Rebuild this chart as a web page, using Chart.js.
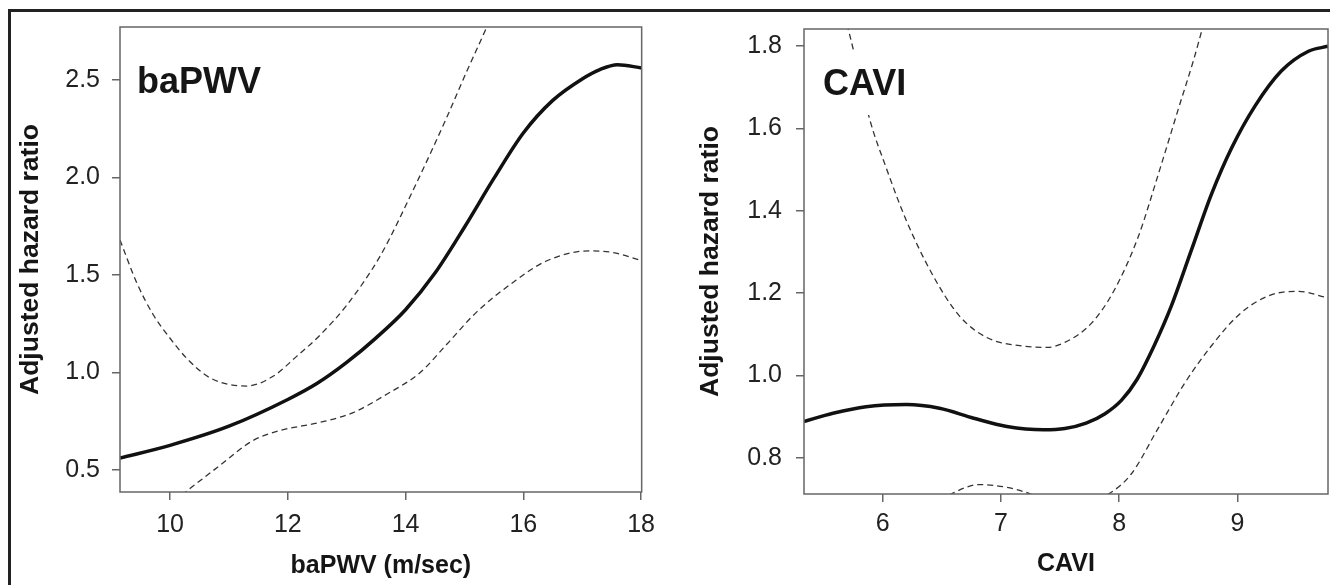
<!DOCTYPE html>
<html>
<head>
<meta charset="utf-8">
<script src="https://cdn.jsdelivr.net/npm/chart.js@4.4.1/dist/chart.umd.min.js"></script>
<style>
  html, body { margin: 0; padding: 0; background: #fff; }
  body { width: 1330px; height: 585px; position: relative; overflow: hidden; }
  #frame { position: absolute; left: 8px; top: 9px; width: 1400px; height: 700px; border: 3px solid #222; box-sizing: border-box; }
  canvas { position: absolute; top: 0; }
  #c1 { left: 0; }
  #c2 { left: 665px; }
</style>
</head>
<body>
<div id="frame"></div>
<canvas id="c1" width="665" height="585"></canvas>
<canvas id="c2" width="665" height="585"></canvas>
<script>
// ---------- baPWV panel ----------
const baTicksX = [10, 12, 14, 16, 18];
const baTicksY = [0.5, 1.0, 1.5, 2.0, 2.5];
const baX  = [9.15, 10.0, 11.0, 12.0, 12.5, 13.0, 13.5, 14.0, 14.5, 15.0, 15.5, 16.0, 16.5, 17.0, 17.3, 17.6, 18.01];
const baHR = [0.562, 0.627, 0.725, 0.862, 0.945, 1.052, 1.178, 1.322, 1.51, 1.745, 1.995, 2.228, 2.395, 2.505, 2.553, 2.578, 2.561];
const baUpX = [9.15, 9.43, 9.72, 10.0, 10.28, 10.68, 11.30, 11.75, 12.15, 12.55, 13.0, 13.57, 14.13, 14.70, 15.04, 15.37, 15.45];
const baUp  = [1.68, 1.463, 1.294, 1.176, 1.074, 0.973, 0.931, 0.981, 1.083, 1.193, 1.345, 1.598, 1.936, 2.308, 2.544, 2.764, 2.82];
const baLoX = [10.2, 10.31, 10.85, 11.41, 11.87, 12.55, 13.11, 13.68, 14.24, 14.7, 15.21, 15.83, 16.40, 17.13, 17.53, 18.01];
const baLo  = [0.373, 0.399, 0.525, 0.652, 0.703, 0.745, 0.795, 0.889, 0.998, 1.145, 1.311, 1.463, 1.573, 1.624, 1.615, 1.573];

// ---------- CAVI panel ----------
const cvTicksX = [6, 7, 8, 9];
const cvTicksY = [0.8, 1.0, 1.2, 1.4, 1.6, 1.8];
const cvX  = [5.335, 5.58, 5.86, 6.20, 6.48, 6.77, 7.05, 7.36, 7.54, 7.72, 7.88, 8.02, 8.15, 8.30, 8.44, 8.61, 8.78, 8.95, 9.15, 9.37, 9.60, 9.765];
const cvHR = [0.888, 0.908, 0.924, 0.929, 0.92, 0.896, 0.876, 0.868, 0.871, 0.884, 0.907, 0.94, 0.99, 1.075, 1.168, 1.304, 1.44, 1.552, 1.655, 1.739, 1.787, 1.799];
const cvUpX = [5.66, 5.71, 5.77, 5.89, 6.03, 6.20, 6.43, 6.65, 6.88, 7.16, 7.39, 7.54, 7.77, 7.96, 8.16, 8.33, 8.50, 8.63, 8.70, 8.75];
const cvUp  = [1.90, 1.84, 1.77, 1.622, 1.504, 1.376, 1.24, 1.144, 1.092, 1.072, 1.068, 1.08, 1.128, 1.208, 1.336, 1.488, 1.647, 1.767, 1.839, 1.89];
const cvLoX = [6.35, 6.58, 6.82, 7.05, 7.25, 7.55, 7.91, 8.10, 8.33, 8.56, 8.78, 9.03, 9.29, 9.51, 9.765];
const cvLo  = [0.67, 0.712, 0.735, 0.728, 0.712, 0.67, 0.712, 0.76, 0.872, 0.984, 1.072, 1.152, 1.196, 1.204, 1.188];

const FONT = "'Liberation Sans', Arial, Helvetica, sans-serif";
const pts = (xs, ys) => xs.map((x, i) => ({ x: x, y: ys[i] }));

function solid(data) {
  return { data, borderColor: '#111', borderWidth: 3.5, pointRadius: 0, cubicInterpolationMode: 'monotone', clip: 0, fill: false };
}
function dashed(data) {
  return { data, borderColor: '#333', borderWidth: 1.3, borderDash: [6, 4], pointRadius: 0, cubicInterpolationMode: 'monotone', clip: 0, fill: false };
}

function framePlugin(label, box) {
  return {
    id: 'frameLabel',
    afterDatasetsDraw(chart) {
      const { ctx, chartArea: a } = chart;
      ctx.save();
      if (box) {
        ctx.fillStyle = '#fff';
        ctx.fillRect(a.left + box[0], box[1], box[2], box[3]);
      }
      ctx.fillStyle = '#151515';
      ctx.font = 'bold 36px ' + FONT;
      ctx.textBaseline = 'alphabetic';
      ctx.textAlign = 'left';
      ctx.fillText(label.text, a.left + label.dx, label.y);
      ctx.strokeStyle = '#666';
      ctx.lineWidth = 1.5;
      ctx.strokeRect(a.left, a.top, a.right - a.left, a.bottom - a.top);
      ctx.restore();
    }
  };
}

function makeChart(id, cfg) {
  return new Chart(document.getElementById(id), {
    type: 'line',
    data: { datasets: cfg.datasets },
    options: {
      responsive: false,
      animation: false,
      events: [],
      layout: { padding: { left: 0, top: 22, right: cfg.padRight, bottom: 0 } },
      plugins: { legend: { display: false }, tooltip: { enabled: false } },
      scales: {
        x: {
          type: 'linear',
          min: cfg.xMin, max: cfg.xMax,
          afterBuildTicks: s => { s.ticks = cfg.ticksX.map(v => ({ value: v })); },
          afterFit: s => { s.height = cfg.xHeight; },
          border: { display: false },
          grid: { drawOnChartArea: false, drawTicks: true, tickLength: 8, color: '#666', lineWidth: 1.5 },
          ticks: { color: '#222', font: { family: FONT, size: 25 }, padding: cfg.xPad, maxRotation: 0, autoSkip: false,
                   callback: v => String(v) },
          title: { display: true, text: cfg.xTitle, color: '#151515', font: { family: FONT, size: 25, weight: 'bold' },
                   padding: { top: 0, bottom: cfg.xTitlePad } }
        },
        y: {
          type: 'linear',
          min: cfg.yMin, max: cfg.yMax,
          afterBuildTicks: s => { s.ticks = cfg.ticksY.map(v => ({ value: v })); },
          afterFit: s => { s.width = cfg.yWidth; },
          border: { display: false },
          grid: { drawOnChartArea: false, drawTicks: true, tickLength: 8, color: '#666', lineWidth: 1.5 },
          ticks: { color: '#222', font: { family: FONT, size: 25 }, padding: cfg.yPad, autoSkip: false,
                   callback: v => Number(v).toFixed(1) },
          title: { display: true, text: 'Adjusted hazard ratio', color: '#151515', font: { family: FONT, size: 26.5, weight: 'bold' },
                   padding: { top: cfg.yTitlePad, bottom: 0 } }
        }
      }
    },
    plugins: [framePlugin(cfg.label, cfg.box)]
  });
}

makeChart('c1', {
  datasets: [solid(pts(baX, baHR)), dashed(pts(baUpX, baUp)), dashed(pts(baLoX, baLo))],
  xMin: 9.15, xMax: 18.01, yMin: 0.388, yMax: 2.771,
  ticksX: baTicksX, ticksY: baTicksY,
  padRight: 23, xHeight: 93, yWidth: 120, xPad: 10, yPad: 12, xTitlePad: 4, yTitlePad: 15,
  xTitle: 'baPWV (m/sec)',
  label: { text: 'baPWV', dx: 17, y: 93 },
  box: null
});

makeChart('c2', {
  datasets: [solid(pts(cvX, cvHR)), dashed(pts(cvUpX, cvUp)), dashed(pts(cvLoX, cvLo))],
  xMin: 5.335, xMax: 9.765, yMin: 0.712, yMax: 1.841,
  ticksX: cvTicksX, ticksY: cvTicksY,
  padRight: 2, xHeight: 91, yWidth: 139, xPad: 7, yPad: 14, xTitlePad: 6, yTitlePad: 30,
  xTitle: 'CAVI',
  label: { text: 'CAVI', dx: 19, y: 95 },
  box: [10, 53, 104, 62]
});
</script>
</body>
</html>
